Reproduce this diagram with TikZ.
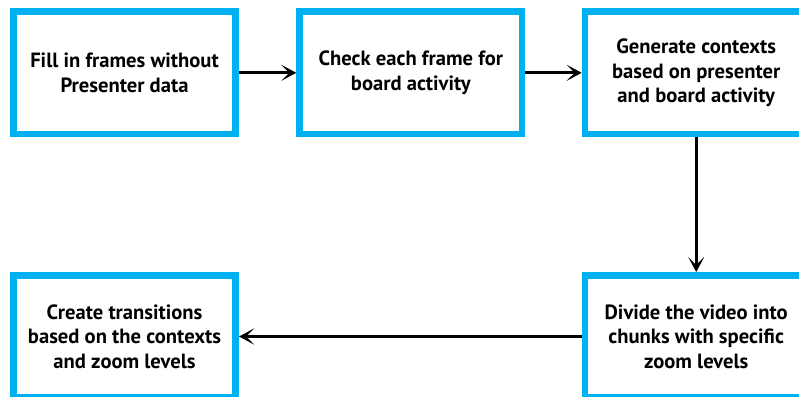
\documentclass[tikz,border=0pt]{standalone}
\usepackage{fontspec}
\setmainfont{PT Sans}
\usetikzlibrary{arrows.meta}
\definecolor{boxblue}{HTML}{00B0F0}
\begin{document}
\begin{tikzpicture}[x=1pt,y=-1pt,
  stepbox/.style={draw=boxblue, line width=6.6pt, fill=white, rectangle,
    minimum width=222.4pt, minimum height=122.4pt, inner sep=0pt,
    align=center, text=black,
    font=\fontsize{20.6}{24.5}\selectfont\bfseries},
  flow/.style={line width=3.2pt, draw=black,
    -{Stealth[length=15pt,width=16pt,inset=8pt]}}]
  \useasboundingbox (0,0) rectangle (799,396);
  \clip (0,0) rectangle (799,396);
  \fill[white] (0,0) rectangle (799,396);
  % top row
  \node[stepbox] (fill) at (124.5,72.8) {Fill in frames without\\Presenter data};
  \node[stepbox] (check) at (410.8,72.8) {Check each frame for\\board activity};
  \node[stepbox] (gen) at (696.2,72.8) {Generate contexts\\based on presenter\\and board activity};
  % bottom row
  \node[stepbox] (trans) at (124.5,336.5) {Create transitions\\based on the contexts\\and zoom levels};
  \node[stepbox] (divide) at (696.2,336.5) {Divide the video into\\chunks with specific\\zoom levels};
  % connectors
  \draw[flow] (fill) -- (check);
  \draw[flow] (check) -- (gen);
  \draw[flow] (gen) -- (divide);
  \draw[flow] (divide) -- (trans);
\end{tikzpicture}
\end{document}
